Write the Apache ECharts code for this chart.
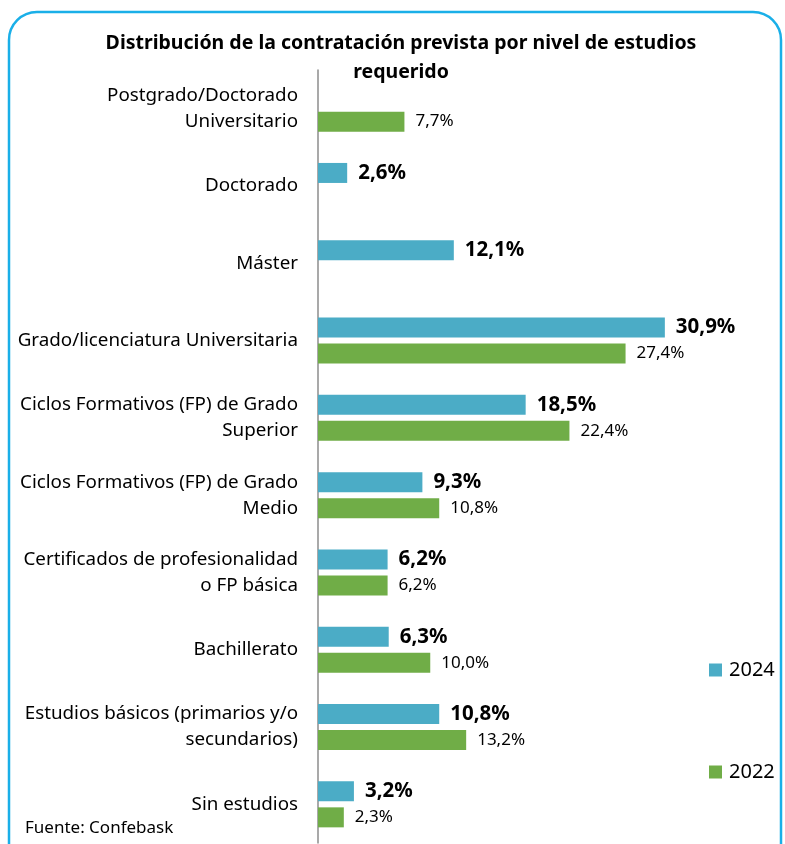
<!DOCTYPE html>
<html>
<head>
<meta charset="utf-8">
<script src="https://cdn.jsdelivr.net/npm/echarts@6/dist/echarts.min.js"></script>
<style>
  html, body { margin: 0; padding: 0; background: #fff; }
  #chart { width: 785px; height: 844px; }
</style>
</head>
<body>
<div id="chart"></div>
<script>
// datos del gráfico
var categorias = [
    'Postgrado/Doctorado\nUniversitario',
    'Doctorado',
    'Máster',
    'Grado/licenciatura Universitaria',
    'Ciclos Formativos (FP) de Grado\nSuperior',
    'Ciclos Formativos (FP) de Grado\nMedio',
    'Certificados de profesionalidad\no FP básica',
    'Bachillerato',
    'Estudios básicos (primarios y/o\nsecundarios)',
    'Sin estudios'
];
var valores2024 = [null, 2.6, 12.1, 30.9, 18.5, 9.3, 6.2, 6.3, 10.8, 3.2];
var valores2022 = [7.7, null, null, 27.4, 22.4, 10.8, 6.2, 10.0, 13.2, 2.3];

var fuente = 'Noto Sans';

function pct(p) {
    return p.value.toFixed(1).replace('.', ',') + '%';
}

var chart = echarts.init(document.getElementById('chart'));

var option = {
    backgroundColor: '#fff',
    animation: false,
    title: [
        {
            text: 'Distribución de la contratación prevista por nivel de estudios\nrequerido',
            left: 396,
            top: 24,
            textAlign: 'center',
            textStyle: {
                fontFamily: fuente,
                fontSize: 19.5,
                fontWeight: 'bold',
                color: '#000',
                lineHeight: 29
            }
        },
        {
            text: 'Fuente: Confebask',
            left: 20,
            top: 815,
            textStyle: {fontFamily: fuente, fontSize: 17, fontWeight: 'normal', color: '#000'}
        }
    ],
    legend: {
        orient: 'vertical',
        left: 704,
        top: 655,
        itemGap: 82,
        itemWidth: 13,
        itemHeight: 13,
        itemStyle: {borderWidth: 0},
        icon: 'rect',
        data: ['2024', '2022'],
        textStyle: {fontFamily: fuente, fontSize: 20, color: '#000', padding: [0, 0, 0, 2]}
    },
    grid: {
        left: 318,
        top: 70,
        width: 449,
        height: 773
    },
    xAxis: {
        type: 'value',
        min: 0,
        max: 40,
        show: false
    },
    yAxis: {
        type: 'category',
        inverse: true,
        data: categorias,
        axisLine: {lineStyle: {color: '#8c8c8c', width: 1.5}},
        axisTick: {show: false},
        axisLabel: {
            fontFamily: fuente,
            fontSize: 18.8,
            color: '#000',
            lineHeight: 26,
            margin: 20,
            align: 'right'
        }
    },
    series: [
        {
            name: '2024',
            type: 'bar',
            data: valores2024,
            barWidth: 20,
            barGap: '30%',
            itemStyle: {color: '#4BACC6'},
            label: {
                show: true,
                position: 'right',
                distance: 11,
                formatter: pct,
                fontFamily: fuente,
                fontSize: 20.5,
                fontWeight: 'bold',
                color: '#000'
            }
        },
        {
            name: '2022',
            type: 'bar',
            data: valores2022,
            barWidth: 20,
            itemStyle: {color: '#70AD47'},
            label: {
                show: true,
                position: 'right',
                distance: 11,
                formatter: pct,
                fontFamily: fuente,
                fontSize: 17,
                color: '#000'
            }
        }
    ],
    graphic: [
        {
            type: 'rect',
            shape: {x: 9, y: 12, width: 772, height: 870, r: 28},
            style: {fill: 'none', stroke: '#1AAFE8', lineWidth: 2.5},
            z: 100
        }
    ]
};

chart.setOption(option);
</script>
</body>
</html>
